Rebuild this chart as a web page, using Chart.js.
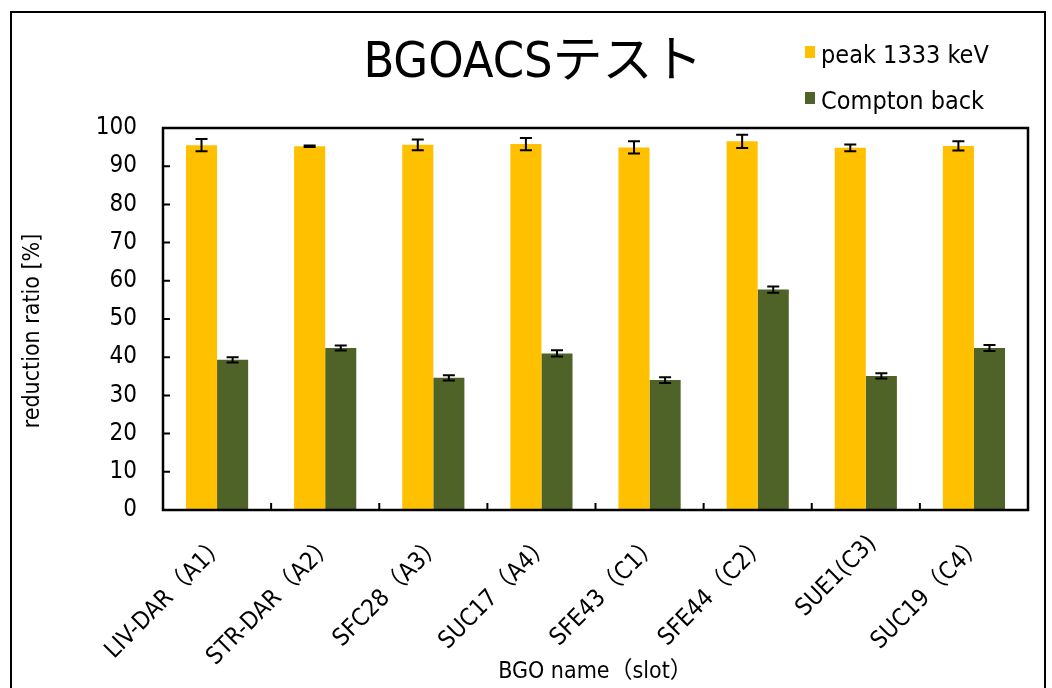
<!DOCTYPE html>
<html><head><meta charset="utf-8">
<script src="https://cdn.jsdelivr.net/npm/chart.js@4.4.1/dist/chart.umd.min.js"></script>
<style>html,body{margin:0;padding:0;background:#fff;}#wrap{position:absolute;left:0;top:0;width:1052px;height:688px;}</style>
</head><body><div id="wrap"><canvas id="c" width="1052" height="688"></canvas></div>
<script>
const categories = ["LIV-DAR（A1）","STR-DAR（A2）","SFC28（A3）","SUC17（A4）","SFE43（C1）","SFE44（C2）","SUE1(C3)","SUC19（C4）"];
const peakValues = [95.5, 95.2, 95.6, 95.8, 94.9, 96.5, 94.8, 95.3];
const peakErrors = [1.6, 0.2, 1.4, 1.6, 1.6, 1.75, 0.9, 1.2];
const comptonValues = [39.3, 42.4, 34.6, 41.0, 34.0, 57.7, 35.1, 42.4];
const comptonErrors = [0.7, 0.65, 0.7, 0.8, 0.75, 0.8, 0.7, 0.8];
const yTicks = [0,10,20,30,40,50,60,70,80,90,100];
const titleText = "BGOACSテスト";
const seriesNames = ["peak 1333 keV","Compton back"];
const xTitle = "BGO name（slot）";
const yTitle = "reduction ratio [%]";

const FONT = "'DejaVu Sans Condensed','Noto Sans CJK JP',sans-serif";
const colors = ["#FFC000","#4F6228"];
const errs = [peakErrors, comptonErrors];

const decor = {
  id:'decor',
  beforeDraw(chart){
    const ctx = chart.ctx;
    ctx.save();
    ctx.fillStyle='#fff'; ctx.fillRect(0,0,chart.width,chart.height);
    ctx.strokeStyle='#000'; ctx.lineWidth=2;
    ctx.strokeRect(11,12,1034,700);
    ctx.restore();
  },
  afterDatasetsDraw(chart){
    const ctx = chart.ctx;
    const y = chart.scales.y;
    ctx.save();
    ctx.strokeStyle='#000'; ctx.lineWidth=2;
    chart.data.datasets.forEach((ds,di)=>{
      const meta = chart.getDatasetMeta(di);
      meta.data.forEach((bar,i)=>{
        const v = ds.data[i], e = errs[di][i];
        const yt = y.getPixelForValue(v+e), yb = y.getPixelForValue(v-e);
        const cx = bar.x, cw = 6;
        ctx.beginPath();
        ctx.moveTo(cx,yt); ctx.lineTo(cx,yb);
        ctx.moveTo(cx-cw,yt); ctx.lineTo(cx+cw,yt);
        ctx.moveTo(cx-cw,yb); ctx.lineTo(cx+cw,yb);
        ctx.stroke();
      });
    });
    const a = chart.chartArea;
    ctx.lineWidth=2.5;
    ctx.strokeRect(a.left,a.top,a.right-a.left,a.bottom-a.top);
    ctx.lineWidth=2;
    ctx.beginPath();
    yTicks.forEach(t=>{const p=y.getPixelForValue(t); ctx.moveTo(a.left,p); ctx.lineTo(a.left+7,p);});
    for(let i=0;i<=categories.length;i++){
      const p = a.left + (a.right-a.left)*i/categories.length;
      ctx.moveTo(p,a.bottom); ctx.lineTo(p,a.bottom-7);
    }
    ctx.stroke();
    ctx.fillStyle='#000';
    ctx.textAlign='center'; ctx.textBaseline='middle';
    ctx.font = "50px "+FONT;
    ctx.fillText(titleText, 533, 64);
    // y title
    ctx.save();
    ctx.translate(33, 331); ctx.rotate(-Math.PI/2);
    ctx.font = "23px "+FONT;
    ctx.fillText(yTitle, 0, 0);
    ctx.restore();
    // legend
    ctx.font = "25px "+FONT;
    ctx.textAlign='left';
    chart.data.datasets.forEach((ds,di)=>{
      const ly = 56 + di*46;
      ctx.fillStyle = ds.backgroundColor;
      ctx.fillRect(805, ly-10, 10, 12);
      ctx.fillStyle='#000';
      ctx.fillText(ds.label, 821, ly);
    });
    ctx.restore();
  }
};

new Chart(document.getElementById('c'),{
  type:'bar',
  data:{labels:categories,datasets:[
    {label:seriesNames[0],data:peakValues,backgroundColor:colors[0],categoryPercentage:0.575,barPercentage:1.0},
    {label:seriesNames[1],data:comptonValues,backgroundColor:colors[1],categoryPercentage:0.575,barPercentage:1.0}
  ]},
  options:{
    responsive:false,animation:false,
    layout:{padding:{top:128,right:24,left:18,bottom:2}},
    plugins:{legend:{display:false},title:{display:false},tooltip:{enabled:false}},
    scales:{
      x:{
        grid:{display:false},border:{display:false},
        ticks:{color:'#000',font:{family:FONT,size:24},maxRotation:45,minRotation:45,padding:12,labelOffset:7},
        title:{display:true,text:xTitle,color:'#000',font:{family:FONT,size:23},padding:{top:0,bottom:0}},
        afterFit(s){s.height=176;}
      },
      y:{
        min:0,max:100,
        grid:{display:false},border:{display:false},
        afterBuildTicks(s){s.ticks=yTicks.map(v=>({value:v}));},
        ticks:{color:'#000',font:{family:FONT,size:24},padding:18},
        title:{display:false},
        afterFit(s){s.width=145;}
      }
    }
  },
  plugins:[decor]
});
</script></body></html>
